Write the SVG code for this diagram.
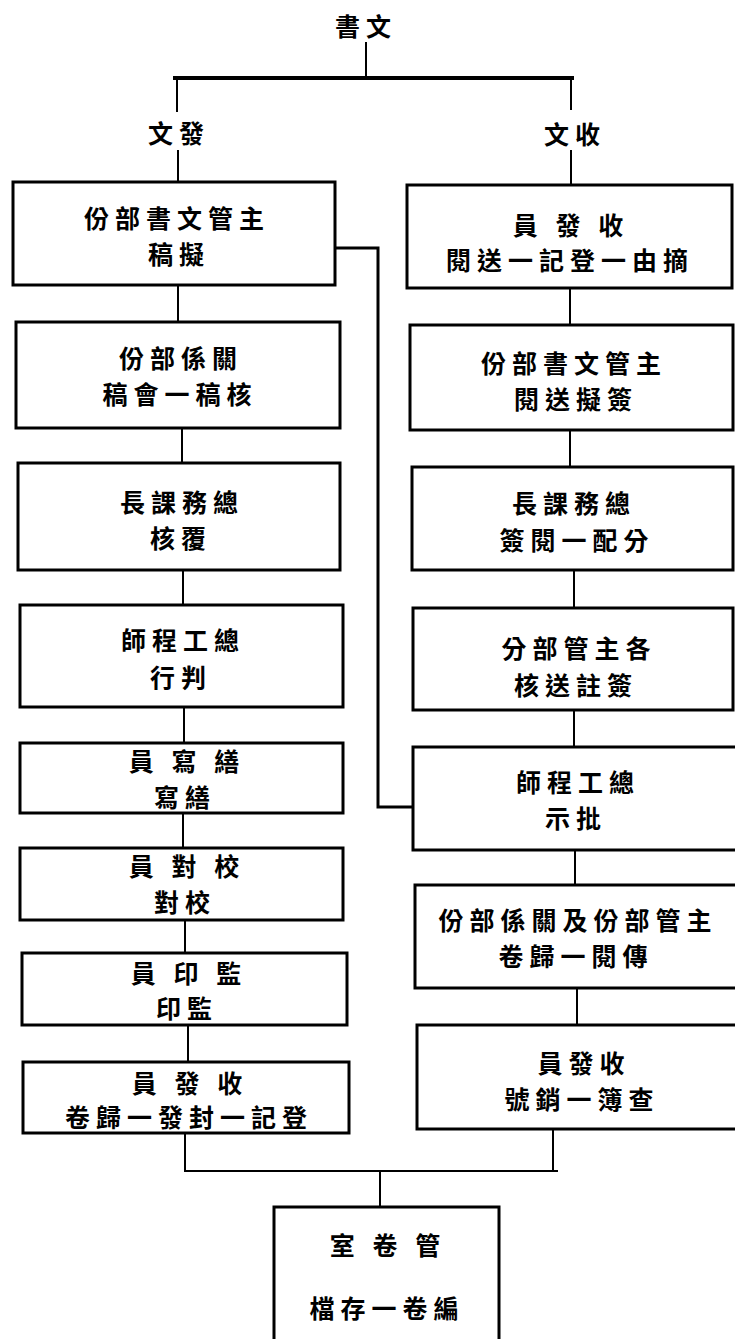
<svg xmlns="http://www.w3.org/2000/svg" width="735" height="1339" viewBox="0 0 735 1339">
<style>
.bg{fill:#ffffff}
.box{fill:none;stroke:#000;stroke-width:3}
.c{fill:none;stroke:#000;stroke-width:2}
.t{font-family:"Noto Sans CJK TC","Noto Sans CJK SC",sans-serif;font-weight:bold;font-size:25px;letter-spacing:6px;fill:#000;text-anchor:middle}
</style>
<rect class="bg" x="0" y="0" width="735" height="1339"/>
<g id="connectors">
<line class="c" x1="366" y1="42" x2="366" y2="78"/>
<line class="c" x1="173" y1="78" x2="574" y2="78" style="stroke-width:4"/>
<line class="c" x1="177" y1="78" x2="177" y2="112"/>
<line class="c" x1="571" y1="78" x2="571" y2="110"/>
<line class="c" x1="178" y1="150" x2="178" y2="182"/>
<line class="c" x1="571" y1="150" x2="571" y2="185"/>
<line class="c" x1="178" y1="285" x2="178" y2="322"/>
<line class="c" x1="182" y1="428" x2="182" y2="463"/>
<line class="c" x1="183" y1="570" x2="183" y2="605"/>
<line class="c" x1="184" y1="707" x2="184" y2="743"/>
<line class="c" x1="183" y1="813" x2="183" y2="848"/>
<line class="c" x1="185" y1="920" x2="185" y2="953"/>
<line class="c" x1="188" y1="1025" x2="188" y2="1062"/>
<line class="c" x1="570" y1="288" x2="570" y2="325"/>
<line class="c" x1="570" y1="430" x2="570" y2="467"/>
<line class="c" x1="574" y1="570" x2="574" y2="608"/>
<line class="c" x1="574" y1="710" x2="574" y2="747"/>
<line class="c" x1="575" y1="850" x2="575" y2="885"/>
<line class="c" x1="577" y1="988" x2="577" y2="1025"/>
<polyline class="c" points="335,248 378,248 378,807 413,807" style="stroke-width:3"/>
<polyline class="c" points="185,1133 185,1171 558,1171"/>
<line class="c" x1="553" y1="1129" x2="553" y2="1171"/>
<line class="c" x1="380" y1="1171" x2="380" y2="1207"/>
</g>
<g id="top"><text class="t" x="366" y="36">書文</text></g>
<g id="fa"><text class="t" x="179" y="143">文發</text></g>
<g id="shou"><text class="t" x="575" y="144">文收</text></g>
<g id="L1"><rect class="box" x="13" y="182" width="322" height="103"/><text class="t" x="177" y="228">份部書文管主</text><text class="t" x="179" y="264">稿擬</text></g>
<g id="L2"><rect class="box" x="16" y="322" width="324" height="106"/><text class="t" x="181" y="368">份部係關</text><text class="t" x="180" y="404">稿會一稿核</text></g>
<g id="L3"><rect class="box" x="18" y="463" width="322" height="107"/><text class="t" x="182" y="512">長課務總</text><text class="t" x="181" y="548">核覆</text></g>
<g id="L4"><rect class="box" x="20" y="605" width="323" height="102"/><text class="t" x="183" y="650">師程工總</text><text class="t" x="181" y="687">行判</text></g>
<g id="L5"><rect class="box" x="20" y="743" width="323" height="70"/><text class="t" x="187" y="771">員 寫 繕</text><text class="t" x="185" y="807">寫繕</text></g>
<g id="L6"><rect class="box" x="20" y="848" width="323" height="72"/><text class="t" x="187" y="876">員 對 校</text><text class="t" x="185" y="912">對校</text></g>
<g id="L7"><rect class="box" x="22" y="953" width="325" height="72"/><text class="t" x="189" y="983">員 印 監</text><text class="t" x="187" y="1018">印監</text></g>
<g id="L8"><rect class="box" x="23" y="1062" width="326" height="71"/><text class="t" x="190" y="1093">員 發 收</text><text class="t" x="189" y="1127">卷歸一發封一記登</text></g>
<g id="R1"><rect class="box" x="407" y="185" width="325" height="103"/><text class="t" x="571" y="235">員 發 收</text><text class="t" x="570" y="270">閱送一記登一由摘</text></g>
<g id="R2"><rect class="box" x="410" y="325" width="323" height="105"/><text class="t" x="574" y="373">份部書文管主</text><text class="t" x="576" y="409">閱送擬簽</text></g>
<g id="R3"><rect class="box" x="412" y="467" width="321" height="103"/><text class="t" x="574" y="513">長課務總</text><text class="t" x="577" y="550">簽閱一配分</text></g>
<g id="R4"><rect class="box" x="413" y="608" width="320" height="102"/><text class="t" x="579" y="658">分部管主各</text><text class="t" x="576" y="695">核送註簽</text></g>
<g id="R5"><rect class="box" x="413" y="747" width="324" height="103"/><text class="t" x="578" y="792">師程工總</text><text class="t" x="576" y="828">示批</text></g>
<g id="R6"><rect class="box" x="415" y="885" width="324" height="103"/><text class="t" x="578" y="930">份部係關及份部管主</text><text class="t" x="576" y="966">卷歸一閱傳</text></g>
<g id="R7"><rect class="box" x="417" y="1025" width="322" height="104"/><text class="t" x="584" y="1073">員發收</text><text class="t" x="582" y="1109">號銷一簿查</text></g>
<g id="archive"><rect class="box" x="274" y="1207" width="225" height="140"/><text class="t" x="388" y="1255">室 卷 管</text><text class="t" x="387" y="1318">檔存一卷編</text></g>
</svg>
